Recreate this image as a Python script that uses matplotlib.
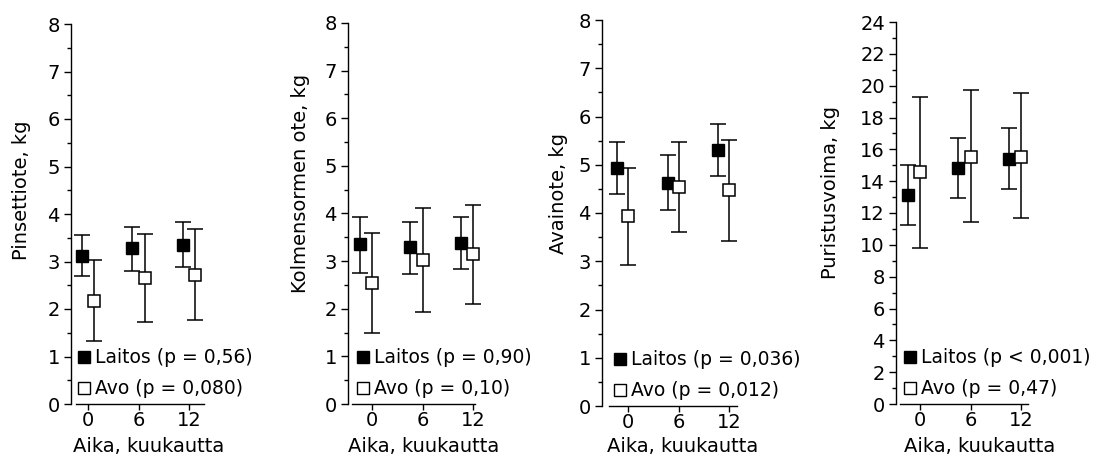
import matplotlib.pyplot as plt
from matplotlib.lines import Line2D
from matplotlib.ticker import MultipleLocator
import numpy as np

plt.rcParams['font.family'] = ['DejaVu Sans']

months = np.array([0, 6, 12])

titles = ["Pinsettiote, kg", "Kolmensormen ote, kg", "Avainote, kg", "Puristusvoima, kg"]
laitos_p = ["(p = 0,56)", "(p = 0,90)", "(p = 0,036)", "(p < 0,001)"]
avo_p = ["(p = 0,080)", "(p = 0,10)", "(p = 0,012)", "(p = 0,47)"]

# Laitos: mean, upper, lower
laitos_mean = [[3.12, 3.28, 3.35], [3.35, 3.29, 3.38], [4.93, 4.63, 5.30], [13.13, 14.80, 15.39]]
laitos_hi = [[3.56, 3.72, 3.83], [3.92, 3.83, 3.92], [5.47, 5.21, 5.84], [15.01, 16.73, 17.31]]
laitos_lo = [[2.69, 2.80, 2.88], [2.76, 2.74, 2.83], [4.40, 4.07, 4.76], [11.25, 12.96, 13.49]]
# Avo
avo_mean = [[2.17, 2.65, 2.72], [2.55, 3.03, 3.15], [3.94, 4.54, 4.47], [14.55, 15.53, 15.53]]
avo_hi = [[3.04, 3.57, 3.68], [3.60, 4.11, 4.17], [4.93, 5.47, 5.52], [19.30, 19.72, 19.51]]
avo_lo = [[1.32, 1.72, 1.77], [1.49, 1.93, 2.11], [2.93, 3.61, 3.41], [9.78, 11.46, 11.67]]

ymax = [8, 8, 8, 24]

# layout in pixels
W, H = 1096, 459
spine = [71, 348, 602, 896]
xend = [204, 475, 737, 1028]
tick0 = [88, 372, 628, 920]
xstart = [76, 352, 609, 900]
y0 = [404, 404, 406, 404]
ytop = [24, 23, 20, 22]
offs = [(-0.72, 0.72), (-1.45, 0.0), (-1.3, 0.0), (-1.45, 0.0)]
ylab_x = [22, 301, 558, 831]
ylab_y = [190, 183, 193, 192]
xlab_x = [149, 424, 683, 980]
leg_dx = [3, 5, 8, 4]  # legend shift right of spine, px

px_per_unit = 50.5 / 6

fig = plt.figure(figsize=(W / 100, H / 100), dpi=100)

for i in range(4):
    ax_w = xend[i] - spine[i]
    ax = fig.add_axes([spine[i] / W, (H - y0[i]) / H,
                       ax_w / W, (y0[i] - ytop[i]) / H])
    left = -(tick0[i] - spine[i]) / px_per_unit
    right = left + ax_w / px_per_unit
    ax.set_xlim(left, right)
    ax.set_ylim(0, ymax[i])

    lm = np.array(laitos_mean[i])
    am = np.array(avo_mean[i])
    e1 = ax.errorbar(months + offs[i][0], lm,
                     yerr=[lm - np.array(laitos_lo[i]), np.array(laitos_hi[i]) - lm],
                     fmt='s', color='black', ms=8, lw=1.1, capsize=6, capthick=1.1, zorder=3)
    e2 = ax.errorbar(months + offs[i][1], am,
                     yerr=[am - np.array(avo_lo[i]), np.array(avo_hi[i]) - am],
                     fmt='s', color='black', mfc='white', mec='black', mew=1.1,
                     ms=8, lw=1.1, capsize=6, capthick=1.1, zorder=3)
    for art in e1.get_children() + e2.get_children():
        art.set_clip_on(False)

    for s in ['top', 'right']:
        ax.spines[s].set_visible(False)
    ax.spines['left'].set_bounds(0, ymax[i])
    ax.spines['bottom'].set_bounds((xstart[i] - spine[i]) / px_per_unit + left, right)
    for s in ['left', 'bottom']:
        ax.spines[s].set_linewidth(1.0)

    ax.set_xticks(months)
    ax.set_xticklabels([str(m) for m in months])
    if ymax[i] == 24:
        ax.yaxis.set_major_locator(MultipleLocator(2))
        ax.yaxis.set_minor_locator(MultipleLocator(1))
    else:
        ax.yaxis.set_major_locator(MultipleLocator(1))
        ax.yaxis.set_minor_locator(MultipleLocator(0.5))
    ax.tick_params(axis='y', which='major', length=5, width=1.0, pad=3, labelsize=14)
    ax.tick_params(axis='y', which='minor', length=3, width=1.0)
    ax.tick_params(axis='x', which='major', length=4, width=1.0, pad=1, labelsize=14)
    ax.patch.set_visible(False)

    handles = [
        Line2D([], [], ls='none', marker='s', color='black', ms=9),
        Line2D([], [], ls='none', marker='s', mfc='white', mec='black', mew=1.0, ms=9),
    ]
    ax.legend(handles, ["Laitos " + laitos_p[i], "Avo " + avo_p[i]],
              loc='lower left', bbox_to_anchor=(leg_dx[i] / ax_w, 2 / (y0[i] - ytop[i])),
              frameon=False, fontsize=13.5, handlelength=0.62, handletextpad=0.28,
              labelspacing=0.65, borderpad=0.2, borderaxespad=0.0)

    fig.text(ylab_x[i] / W, 1 - ylab_y[i] / H, titles[i], rotation=90,
             ha='center', va='center', fontsize=14)
    fig.text(xlab_x[i] / W, 1 - 446 / H, "Aika, kuukautta",
             ha='center', va='center', fontsize=14)

fig.savefig('out.png', dpi=100)
